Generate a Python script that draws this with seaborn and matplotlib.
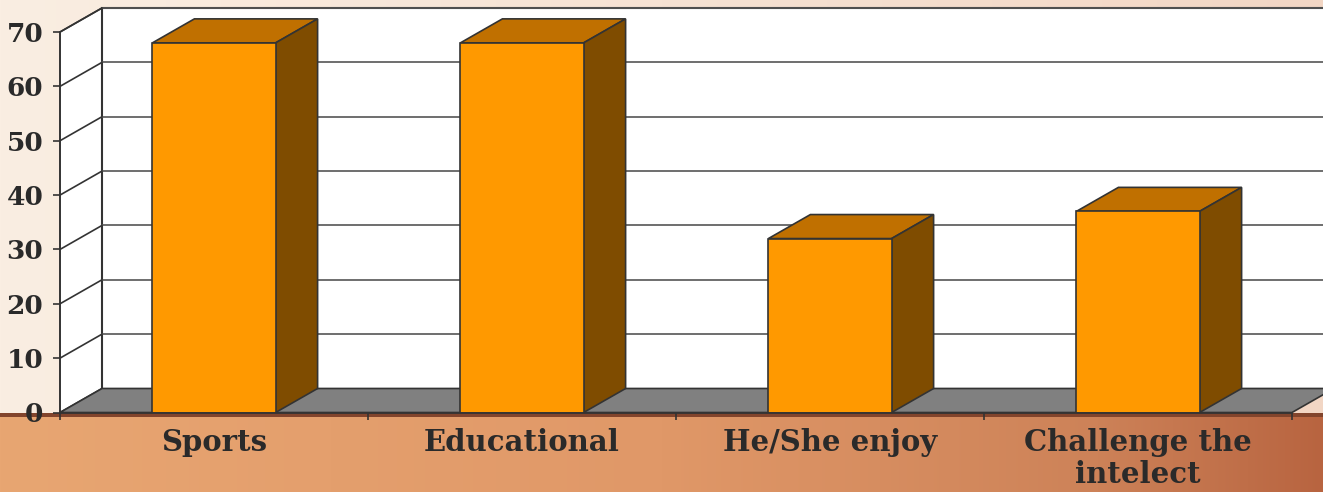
import numpy as np
import matplotlib
matplotlib.use("Agg")
import matplotlib.pyplot as plt
from matplotlib.patches import Polygon
import seaborn as sns

categories = ["Sports", "Educational", "He/She enjoy", "Challenge the\nintelect"]
values = [68, 68, 32, 37]
yticks = [0, 10, 20, 30, 40, 50, 60, 70]

sns.set_style("white")
plt.rcParams['font.family'] = ['DejaVu Serif']
plt.rcParams['font.weight'] = 'bold'

W, H, DPI = 1323, 492, 100
fig = plt.figure(figsize=(W / DPI, H / DPI), dpi=DPI)

# -------- background --------
bg = fig.add_axes([0, 0, 1, 1], zorder=-10)
xs = np.linspace(0, 1, W)
img = np.zeros((H, W, 3))
top_l, top_r = np.array([250, 238, 226]), np.array([242, 214, 196])
img[:413] = (top_l + (top_r - top_l) * xs[:, None])[None] / 255
stops = [0, 0.5, 0.83, 1]
cols = np.array([[232, 166, 114], [224, 152, 104], [205, 130, 88], [184, 100, 64]])
band = np.stack([np.interp(xs, stops, cols[:, k]) for k in range(3)], axis=1) / 255
img[413:] = band[None]
img[413:417] = np.array([130, 68, 44]) / 255
bg.imshow(img, aspect='auto', extent=[0, 1, 0, 1])
bg.axis('off')

# -------- chart --------
ax = fig.add_axes([60 / W, 79.5 / H, 1232 / W, 380.5 / H])
ax.patch.set_alpha(0)
sns.barplot(x=categories, y=values, color='#FF9900', saturation=1, width=0.4,
            edgecolor='#333333', linewidth=1.2, ax=ax, zorder=3)
ax.set_xlim(-0.5, len(categories) - 0.5)
ax.set_ylim(0, 70)

dx = 42 * 4 / 1232
dy = 24 * 70 / 380.5
x0, x1 = -0.5, len(categories) - 0.5
ymax = yticks[-1]

# left wall, back wall, floor
ax.add_patch(Polygon([(x0, 0), (x0 + dx, dy), (x0 + dx, ymax + dy), (x0, ymax)],
                     facecolor='white', edgecolor='#333333', lw=1.2, zorder=0.5, clip_on=False))
ax.add_patch(Polygon([(x0 + dx, dy), (x1 + dx, dy), (x1 + dx, ymax + dy), (x0 + dx, ymax + dy)],
                     facecolor='white', edgecolor='#333333', lw=1.5, zorder=0.5, clip_on=False))
for v in yticks[1:]:
    ax.plot([x0 + dx, x1 + dx], [v + dy, v + dy], color='#555555', lw=1.2, zorder=0.6, clip_on=False)
    ax.plot([x0, x0 + dx], [v, v + dy], color='#333333', lw=1.2, zorder=0.6, clip_on=False)
ax.add_patch(Polygon([(x0, 0), (x1, 0), (x1 + dx, dy), (x0 + dx, dy)],
                     facecolor='#808080', edgecolor='#333333', lw=1.2, zorder=0.7, clip_on=False))

# 3d faces of bars
for p in list(ax.patches):
    if not hasattr(p, 'get_width'):
        continue
    bx, bw, bh = p.get_x(), p.get_width(), p.get_height()
    ax.add_patch(Polygon([(bx, bh), (bx + bw, bh), (bx + bw + dx, bh + dy), (bx + dx, bh + dy)],
                         facecolor='#C07000', edgecolor='#333333', lw=1.2, zorder=2.5, clip_on=False))
    ax.add_patch(Polygon([(bx + bw, 0), (bx + bw + dx, dy), (bx + bw + dx, bh + dy), (bx + bw, bh)],
                         facecolor='#7F4C00', edgecolor='#333333', lw=1.2, zorder=2.5, clip_on=False))

# axes / ticks
for s in ['top', 'right']:
    ax.spines[s].set_visible(False)
for s in ['left', 'bottom']:
    ax.spines[s].set_color('#333333')
    ax.spines[s].set_linewidth(1.2)
    ax.spines[s].set_zorder(4)
ax.set_yticks(yticks)
ax.set_yticklabels([str(v) for v in yticks], fontsize=19, fontweight='bold', color='#2a2a2a')
ax.tick_params(axis='y', direction='out', length=5, width=1.2, color='#333333', pad=7, left=True)
ax.set_xticks(range(len(categories)))
ax.set_xticklabels(categories, fontsize=21, fontweight='bold', color='#2a2a2a', linespacing=1.15)
ax.tick_params(axis='x', which='major', length=0, pad=11)
ax.set_xticks(np.arange(-0.5, len(categories)), minor=True)
ax.tick_params(axis='x', which='minor', direction='out', length=5, width=1.2, color='#333333', bottom=True)
ax.set_xlabel('')
ax.set_ylabel('')
ax.grid(False)

fig.savefig('out.png', dpi=DPI)
